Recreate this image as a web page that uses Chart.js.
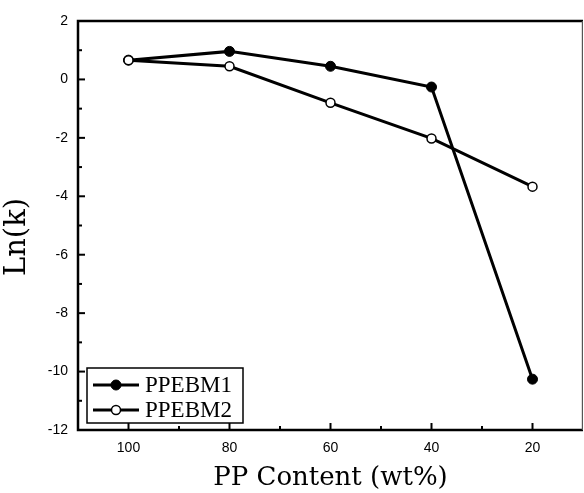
<!DOCTYPE html>
<html><head><meta charset="utf-8">
<script src="https://cdn.jsdelivr.net/npm/chart.js@4"></script>
<style>html,body{margin:0;padding:0;background:#fff}#wrap{width:584px;height:493px}</style>
</head><body><div id="wrap"><canvas id="c" width="584" height="493"></canvas></div>
<script>
const categories = [100, 80, 60, 40, 20];
const ppebm1 = [0.66, 0.96, 0.45, -0.26, -10.26];
const ppebm2 = [0.66, 0.45, -0.80, -2.02, -3.67];
const seriesNames = ['PPEBM1', 'PPEBM2'];
const xTicks = [100, 80, 60, 40, 20];
const xMinorTicks = [90, 70, 50, 30];
const yTicks = [2, 0, -2, -4, -6, -8, -10, -12];
const yMinorTicks = [1, -1, -3, -5, -7, -9, -11];
const xTitle = 'PP Content (wt%)';
const yTitle = 'Ln(k)';

const toPts = (arr) => categories.map((x, i) => ({x: x, y: arr[i]}));

const framePlugin = {
  id: 'frame',
  afterDatasetsDraw(chart) {
    const {ctx, chartArea: a, scales} = chart;
    const xs = scales.x, ys = scales.y;
    ctx.save();
    ctx.strokeStyle = '#000';
    ctx.lineCap = 'butt';
    ctx.lineWidth = 2;
    xTicks.forEach(v => { const px = xs.getPixelForValue(v); ctx.beginPath(); ctx.moveTo(px, a.bottom); ctx.lineTo(px, a.bottom - 7); ctx.stroke(); });
    xMinorTicks.forEach(v => { const px = xs.getPixelForValue(v); ctx.beginPath(); ctx.moveTo(px, a.bottom); ctx.lineTo(px, a.bottom - 4); ctx.stroke(); });
    yTicks.forEach(v => { const py = ys.getPixelForValue(v); ctx.beginPath(); ctx.moveTo(a.left, py); ctx.lineTo(a.left + 7, py); ctx.stroke(); });
    yMinorTicks.forEach(v => { const py = ys.getPixelForValue(v); ctx.beginPath(); ctx.moveTo(a.left, py); ctx.lineTo(a.left + 4, py); ctx.stroke(); });
    ctx.lineWidth = 2.5;
    ctx.beginPath();
    ctx.moveTo(a.left, a.top); ctx.lineTo(a.right, a.top);
    ctx.moveTo(a.left, a.top - 1.25); ctx.lineTo(a.left, a.bottom + 1.25);
    ctx.moveTo(a.left - 1.25, a.bottom); ctx.lineTo(a.right, a.bottom);
    ctx.stroke();
    ctx.strokeStyle = '#555';
    ctx.lineWidth = 1.2;
    ctx.beginPath(); ctx.moveTo(a.right - 0.6, a.top); ctx.lineTo(a.right - 0.6, a.bottom); ctx.stroke();
    ctx.restore();
  },
  afterDraw(chart) {
    const {ctx, chartArea: a} = chart;
    ctx.save();
    ctx.fillStyle = '#000';
    ctx.font = '26px "DejaVu Serif"';
    ctx.textAlign = 'center';
    ctx.textBaseline = 'middle';
    ctx.fillText(xTitle, (a.left + a.right) / 2, 478);
    ctx.save();
    ctx.translate(17, 237);
    ctx.rotate(-Math.PI / 2);
    ctx.font = '29px "DejaVu Serif"';
    ctx.fillText(yTitle, 0, 0);
    ctx.restore();
    ctx.strokeStyle = '#000';
    ctx.lineWidth = 1.5;
    ctx.fillStyle = '#fff';
    ctx.fillRect(87, 368, 156, 55);
    ctx.strokeRect(87, 368, 156, 55);
    const rows = [385, 410];
    chart.data.datasets.forEach((ds, i) => {
      const y = rows[i];
      ctx.strokeStyle = ds.borderColor;
      ctx.lineWidth = ds.borderWidth;
      ctx.beginPath(); ctx.moveTo(93, y); ctx.lineTo(139, y); ctx.stroke();
      ctx.beginPath(); ctx.arc(116, y, ds.pointRadius, 0, Math.PI * 2);
      ctx.fillStyle = ds.pointBackgroundColor; ctx.fill();
      ctx.lineWidth = ds.pointBorderWidth; ctx.strokeStyle = ds.pointBorderColor; ctx.stroke();
      ctx.fillStyle = '#000';
      ctx.font = '23px "Liberation Serif"';
      ctx.textAlign = 'left';
      ctx.textBaseline = 'middle';
      ctx.fillText(ds.label, 145, y + 1);
    });
    ctx.restore();
  }
};

new Chart(document.getElementById('c'), {
  type: 'line',
  data: {
    datasets: [
      { label: seriesNames[0], data: toPts(ppebm1), borderColor: '#000', borderWidth: 3,
        pointRadius: 5, pointBackgroundColor: '#000', pointBorderColor: '#000', pointBorderWidth: 1,
        order: 1, clip: false },
      { label: seriesNames[1], data: toPts(ppebm2), borderColor: '#000', borderWidth: 3,
        pointRadius: 4.5, pointBackgroundColor: '#fff', pointBorderColor: '#000', pointBorderWidth: 1.5,
        order: 0, clip: false }
    ]
  },
  options: {
    responsive: false,
    animation: false,
    devicePixelRatio: 1,
    layout: { autoPadding: false, padding: { top: 21, right: 1, left: 0, bottom: 0 } },
    plugins: { legend: { display: false }, tooltip: { enabled: false } },
    scales: {
      x: {
        type: 'linear', min: 10, max: 110, reverse: true,
        afterBuildTicks: s => { s.ticks = xTicks.map(v => ({value: v})); },
        afterFit: s => { s.height = 63; },
        grid: { display: false, drawTicks: false }, border: { display: false },
        ticks: { color: '#000', padding: 10, font: { family: '"Liberation Sans"', size: 14 }, maxRotation: 0, autoSkip: false }
      },
      y: {
        type: 'linear', min: -12, max: 2,
        afterBuildTicks: s => { s.ticks = yTicks.map(v => ({value: v})); },
        afterFit: s => { s.width = 78; },
        grid: { display: false, drawTicks: false }, border: { display: false },
        ticks: { color: '#000', padding: 10, font: { family: '"Liberation Sans"', size: 14 }, autoSkip: false }
      }
    }
  },
  plugins: [framePlugin]
});
</script></body></html>
